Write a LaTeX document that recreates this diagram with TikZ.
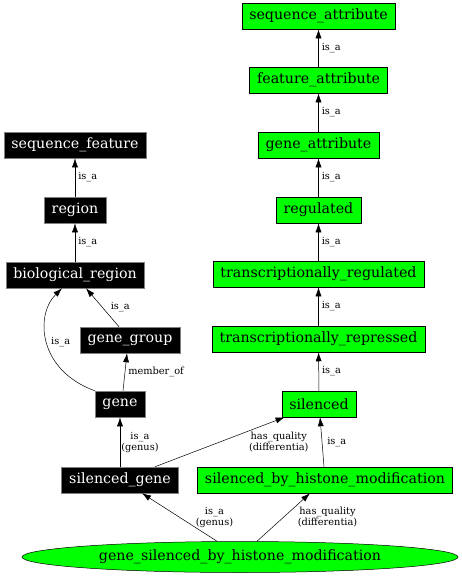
\documentclass[tikz,border=0pt]{standalone}
\usepackage{fontspec}
\setmainfont{DejaVu Serif}
\usetikzlibrary{shapes,arrows.meta}

\begin{document}
\begin{tikzpicture}[>={Latex[length=9pt,width=6pt]}, x=1pt, y=-1pt, line width=0.5pt,
	term/.style={rectangle, draw=gray, fill=black, text=white, minimum height=26pt, inner xsep=7.5pt, font=\fontsize{14.2}{16}\selectfont},
	attr/.style={rectangle, draw=black, fill=green, minimum height=26pt, inner xsep=7.5pt, font=\fontsize{14.2}{16}\selectfont},
	rel/.style={font=\fontsize{9.8}{11}\selectfont, inner sep=1pt, align=center}]
	\useasboundingbox (0,0) rectangle (461,576);
	% attribute chain
	\node[attr] (seqattr) at (318.5,16) {sequence\_attribute};
	\node[attr] (featattr) at (318.5,80) {feature\_attribute};
	\node[attr] (geneattr) at (318.5,145) {gene\_attribute};
	\node[attr] (regulated) at (318.5,210) {regulated};
	\node[attr] (transreg) at (318.5,274) {transcriptionally\_regulated};
	\node[attr] (transrep) at (318.5,339) {transcriptionally\_repressed};
	\node[attr] (silenced) at (319,404) {silenced};
	\node[attr] (silhist) at (325,480) {silenced\_by\_histone\_modification};
	% feature chain
	\node[term] (seqfeat) at (75,145) {sequence\_feature};
	\node[term] (region) at (75,210) {region};
	\node[term] (bioregion) at (75,275) {biological\_region};
	\node[term] (genegroup) at (130,340) {gene\_group};
	\node[term] (gene) at (120,404) {gene};
	\node[term] (silgene) at (120,480) {silenced\_gene};
	\node[ellipse, draw=black, fill=green, minimum width=436pt, minimum height=31pt, inner sep=0pt, font=\fontsize{14.2}{16}\selectfont] (gsbhm) at (240,557) {gene\_silenced\_by\_histone\_modification};

	\draw[->] (featattr) -- (seqattr) node[rel, midway, right=2pt] {is\_a};
	\draw[->] (geneattr) -- (featattr) node[rel, midway, right=2pt] {is\_a};
	\draw[->] (regulated) -- (geneattr) node[rel, midway, right=2pt] {is\_a};
	\draw[->] (transreg) -- (regulated) node[rel, midway, right=2pt] {is\_a};
	\draw[->] (transrep) -- (transreg) node[rel, midway, right=2pt] {is\_a};
	\draw[->] (silenced) -- (transrep) node[rel, midway, right=2pt] {is\_a};
	\draw[->] ([xshift=-1pt]silhist.north) -- (silenced) node[rel, midway, right=4pt] {is\_a};

	\draw[->] (region) -- (seqfeat) node[rel, midway, right=2pt] {is\_a};
	\draw[->] (bioregion) -- (region) node[rel, midway, right=2pt] {is\_a};
	\draw[->] ([xshift=-11pt]genegroup.north) -- ([xshift=11pt]bioregion.south) node[rel, midway, right=7pt] {is\_a};
	\draw[->] (gene.north west) .. controls (38,370) and (35,315) .. ([xshift=-13pt]bioregion.south) node[rel, midway, right=3pt] {is\_a};
	\draw[->] ([xshift=3pt]gene.north) -- ([xshift=-3pt]genegroup.south) node[rel, midway, right=2pt] {member\_of};
	\draw[->] (silgene) -- (gene) node[rel, midway, right] {is\_a\\(genus)};
	\draw[->] ([xshift=35pt]silgene.north) -- ([xshift=3pt]silenced.south west) node[rel, midway, right=28pt] {has\_quality\\(differentia)};
	\draw[->] ([xshift=-23pt]gsbhm.north) -- ([xshift=22pt]silgene.south) node[rel, midway, right=15pt] {is\_a\\(genus)};
	\draw[->] ([xshift=17pt]gsbhm.north) -- ([xshift=-15pt]silhist.south) node[rel, midway, right=13pt] {has\_quality\\(differentia)};
\end{tikzpicture}
\end{document}
